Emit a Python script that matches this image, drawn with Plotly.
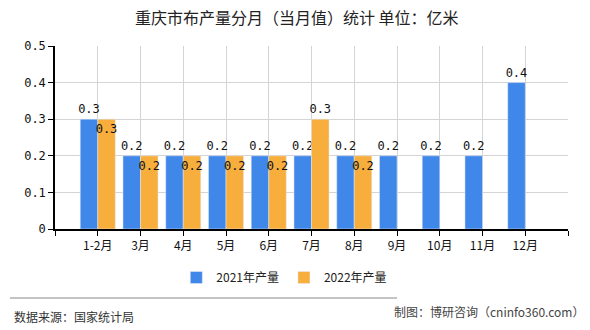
import plotly.graph_objects as go

title = "重庆市布产量分月（当月值）统计 单位：亿米"
months = ["1-2月", "3月", "4月", "5月", "6月", "7月", "8月", "9月", "10月", "11月", "12月"]
values_2021 = [0.3, 0.2, 0.2, 0.2, 0.2, 0.2, 0.2, 0.2, 0.2, 0.2, 0.4]
values_2022 = [0.3, 0.2, 0.2, 0.2, 0.2, 0.3, 0.2, None, None, None, None]
name_2021 = "2021年产量"
name_2022 = "2022年产量"
y_ticks = [0, 0.1, 0.2, 0.3, 0.4, 0.5]
y_tick_labels = ["0", "0.1", "0.2", "0.3", "0.4", "0.5"]
source_text = "数据来源：国家统计局"
credit_text = "制图：博研咨询（cninfo360.com）"

BLUE = "#4087EA"
ORANGE = "#F8AE3C"
NUM_FONT = "DejaVu Sans Mono, Noto Sans CJK SC, monospace"
CJK_FONT = "Noto Sans CJK SC, sans-serif"

xs = list(range(len(months)))

fig = go.Figure()
fig.add_trace(go.Bar(
    x=xs, y=values_2021, name=name_2021, marker_color=BLUE,
    text=[f"{v:.1f}" for v in values_2021], textposition="outside",
    textangle=0, constraintext="none",
    textfont=dict(family=NUM_FONT, size=12, color="#111"),
    cliponaxis=False,
))
lbl22 = [f"{v:.1f}" if v is not None else "" for v in values_2022]
pos22 = ["outside" if (v is not None and v >= 0.3 and i > 0) else "inside" for i, v in enumerate(values_2022)]
fig.add_trace(go.Bar(
    x=xs, y=values_2022, name=name_2022, marker_color=ORANGE,
    text=lbl22, textposition=pos22, insidetextanchor="end",
    textangle=0, constraintext="none",
    textfont=dict(family=NUM_FONT, size=12, color="#111"),
    cliponaxis=False,
))

fig.update_layout(
    width=590, height=330,
    margin=dict(l=55, r=22, t=46, b=101),
    paper_bgcolor="white", plot_bgcolor="white",
    barmode="group", bargap=0.18, bargroupgap=0,
    uniformtext=dict(minsize=12, mode="show"),
    title=dict(text=title, x=0.503, xanchor="center", y=0.945, yanchor="middle",
               font=dict(family=CJK_FONT, size=16, color="#222")),
    showlegend=True,
    legend=dict(orientation="h", x=0.447, xanchor="center", y=-0.265, yanchor="middle",
                font=dict(family=CJK_FONT, size=12, color="#222"),
                itemwidth=30, traceorder="normal"),
    xaxis=dict(
        range=[-1, len(months)],
        tickmode="array",
        tickvals=[-1] + xs + [len(months)],
        ticktext=[""] + months + [""],
        showgrid=True, gridcolor="#d4d4d4", gridwidth=1,
        showline=True, linecolor="#000", linewidth=1.5,
        ticks="outside", ticklen=5, tickcolor="#000",
        tickfont=dict(family=CJK_FONT, size=12, color="#111"),
        zeroline=False, fixedrange=True,
    ),
    yaxis=dict(
        range=[0, 0.5],
        tickmode="array", tickvals=y_ticks, ticktext=y_tick_labels,
        showgrid=True, gridcolor="#d4d4d4", gridwidth=1,
        showline=True, linecolor="#000", linewidth=1.5,
        ticks="outside", ticklen=5, tickcolor="#000",
        tickfont=dict(family=NUM_FONT, size=12, color="#111"),
        zeroline=False, fixedrange=True,
    ),
)

fig.add_shape(type="line", xref="paper", yref="paper",
              x0=(10 - 55) / 513, x1=(397 - 55) / 513,
              y0=(229 - 298) / 183, y1=(229 - 298) / 183,
              line=dict(color="#888", width=1))
fig.add_annotation(text=source_text, xref="paper", yref="paper",
                   x=(12 - 55) / 513, y=(229 - 316) / 183, xanchor="left", yanchor="middle",
                   showarrow=False, font=dict(family=CJK_FONT, size=12, color="#333"))
fig.add_annotation(text=credit_text, xref="paper", yref="paper",
                   x=(586 - 55) / 513, y=(229 - 311) / 183, xanchor="right", yanchor="middle",
                   showarrow=False, font=dict(family=CJK_FONT, size=12, color="#444"))

fig.write_html("out.html")
